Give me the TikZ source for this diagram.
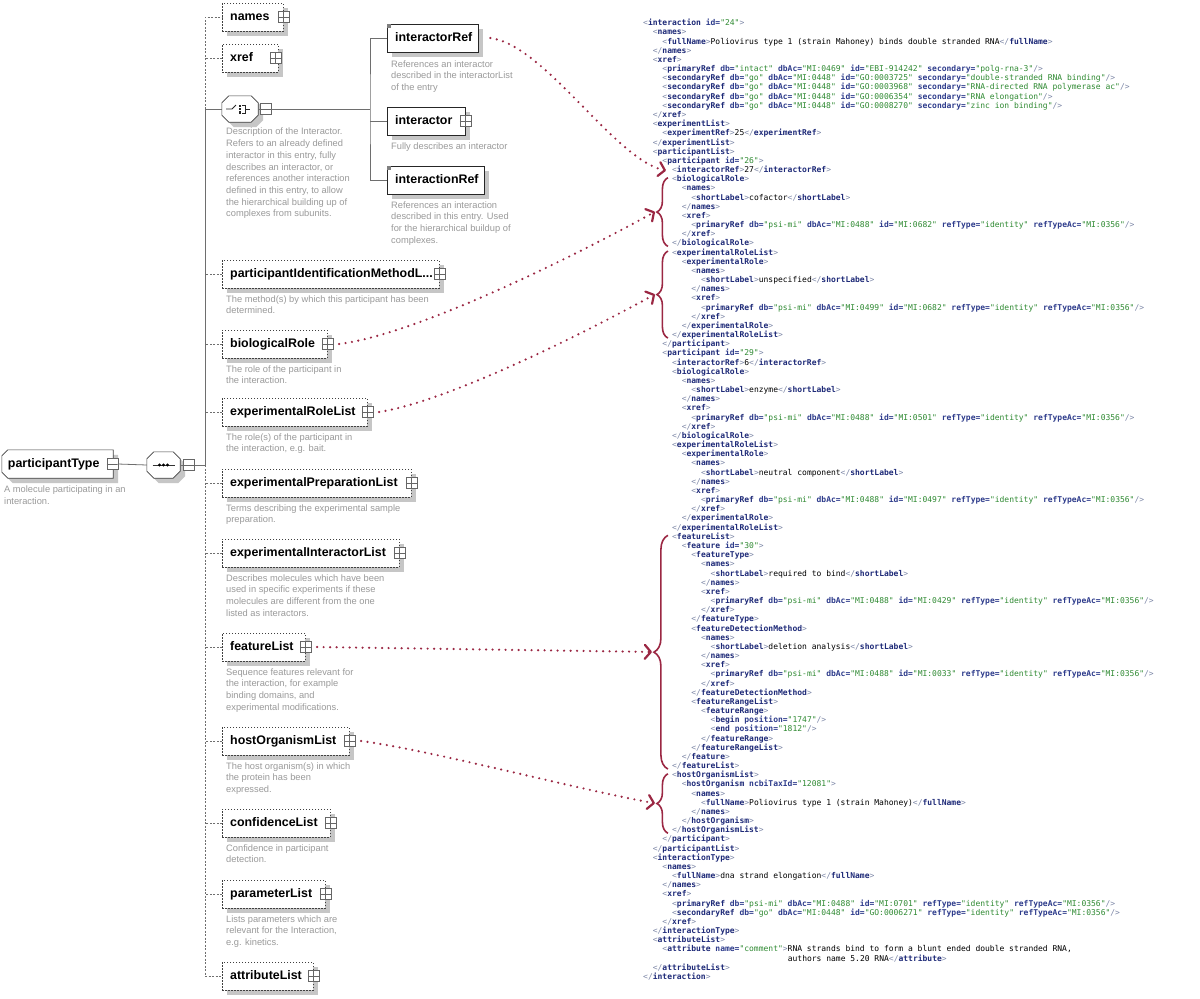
\documentclass[tikz,border=0pt]{standalone}
\usepackage{fontspec}
\usepackage{xcolor}
\usetikzlibrary{arrows.meta, positioning, calc, shadows, backgrounds, decorations.pathreplacing}
\setmainfont{Liberation Sans}
\newfontfamily\xmlfont{DejaVu Sans Mono}
\definecolor{schemaLine}{HTML}{6E6E6E}
\definecolor{descGrey}{HTML}{9A9A9A}
\definecolor{shadowGrey}{HTML}{C6C6C6}
\definecolor{linkRed}{HTML}{9B2743}
\definecolor{xmlBracket}{HTML}{7C86A6}
\definecolor{xmlTag}{HTML}{1E2A78}
\definecolor{xmlAttr}{HTML}{2E3C8C}
\definecolor{xmlValue}{HTML}{2F8A32}

% outlines of the compositor and type boxes
\newcommand\octpath[2]{($(#1.north west)+(#2,0)$) -- ($(#1.north east)+(-#2,0)$) -- ($(#1.north east)+(0,#2)$)
  -- ($(#1.south east)+(0,-#2)$) -- ($(#1.south east)+(-#2,0)$) -- ($(#1.south west)+(#2,0)$)
  -- ($(#1.south west)+(0,-#2)$) -- ($(#1.north west)+(0,#2)$) -- cycle}
\newcommand\lchampath[2]{($(#1.north west)+(#2,0)$) -- (#1.north east) -- (#1.south east)
  -- ($(#1.south west)+(#2,0)$) -- ($(#1.south west)+(0,-#2)$) -- ($(#1.north west)+(0,#2)$) -- cycle}

% xml listing helpers
\newcounter{xmlrow}
\newcommand\tagO[1]{\textcolor{xmlBracket}{<}\textcolor{xmlTag}{\bfseries #1}}
\newcommand\tagG{\textcolor{xmlBracket}{>}}
\newcommand\tagS{\textcolor{xmlBracket}{/>}}
\newcommand\tagC[1]{\textcolor{xmlBracket}{</}\textcolor{xmlTag}{\bfseries #1}\textcolor{xmlBracket}{>}}
\newcommand\xatt[2]{ \textcolor{xmlAttr}{\bfseries #1=}\textcolor{xmlValue}{"#2"}}
\newcommand\psiref[2]{\tagO{primaryRef}\xatt{db}{psi-mi}\xatt{dbAc}{#1}\xatt{id}{#2}\xatt{refType}{identity}\xatt{refTypeAc}{MI:0356}\tagS}
\newcommand\goref[2]{\tagO{secondaryRef}\xatt{db}{go}\xatt{dbAc}{MI:0448}\xatt{id}{#1}\xatt{secondary}{#2}\tagS}
\newcommand\xrow[2]{\stepcounter{xmlrow}%
  \node[xmlrowstyle] (x\arabic{xmlrow}) at ({643+#1*9.64},{25.8+(\arabic{xmlrow}-1)*9.17}) {#2};}

\begin{document}
\begin{tikzpicture}[x=1pt, y=-1pt,
  every node/.style={font=\fontsize{12.4}{14}\selectfont\bfseries},
  optel/.style={
    draw=black!75, dash pattern=on 1.5pt off 1.5pt, fill=white,
    minimum height=28pt, text width=#1, inner xsep=8pt, inner ysep=0pt,
    text height=9pt, text depth=3pt, align=left, anchor=west,
    general shadow={fill=shadowGrey, shadow xshift=5pt, shadow yshift=-5pt}
  },
  reqel/.style={optel=#1, solid, draw=black!85},
  compositor/.style={minimum width=#1, minimum height=26pt, inner sep=0pt},
  ptypebox/.style={
    minimum height=28pt, text width=99pt, inner xsep=6pt, inner ysep=0pt,
    text height=9pt, text depth=3pt, align=left
  },
  outline/.style={draw=black!75, fill=white, line width=0.6pt},
  outshadow/.style={fill=shadowGrey, transform canvas={xshift=5pt, yshift=-5pt}},
  plusbox/.style={
    draw=black!60, fill=white, minimum size=11pt, inner sep=0pt,
    path picture={\draw[black!60] (path picture bounding box.north) -- (path picture bounding box.south)
      (path picture bounding box.west) -- (path picture bounding box.east);}
  },
  minusbox/.style={
    draw=black!60, fill=white, minimum size=11pt, inner sep=0pt,
    path picture={\draw[black!60] (path picture bounding box.west) -- (path picture bounding box.east);}
  },
  desc/.style={font=\fontsize{9.3}{11.7}\selectfont, text=descGrey, align=left, inner sep=0pt, anchor=north west},
  conn/.style={draw=schemaLine, line width=0.8pt},
  conndash/.style={conn, dash pattern=on 2pt off 1.5pt},
  xmlrowstyle/.style={font=\xmlfont\fontsize{8}{9}\selectfont, anchor=base west, inner sep=0pt,
    text height=6pt, text depth=2pt},
  bracedeco/.style={draw=linkRed, line width=1.6pt, decorate, decoration={brace, amplitude=#1}},
  link/.style={draw=linkRed, line width=2.4pt, line cap=round, dash pattern=on 0pt off 6.5pt,
    -{Straight Barb[length=6pt, width=14pt, line width=2.2pt, round]}}
]
\begin{scope}[on background layer]
  \fill[white] (0,0) rectangle (1200,999);
\end{scope}
\useasboundingbox (0,0) rectangle (1200,999);

% participantType and sequence
\node[ptypebox] (ptype) at (57.5,464) {participantType};
\node[minusbox] (ptypeM) at ([xshift=-1pt]ptype.east) {};
\node[desc] (ptypeD) at (4,486) {A molecule participating in an\\interaction.};

\node[compositor=33pt] (seq) at (163.5,465) {};
\node[minusbox] (seqM) at (189,465) {};
\draw[black!80, line width=0.8pt] ([xshift=-11pt]seq.center) -- ([xshift=11pt]seq.center);
\foreach \dx in {-4,0,4} \fill[black] ([xshift=\dx pt]seq.center) circle (1.7pt);

% children of the sequence
\node[optel=45pt] (names) at (222,17) {names};
\node[plusbox] (namesP) at (names.east) {};
\node[optel=40pt] (xref) at (222,58) {xref};
\node[plusbox] (xrefP) at ([xshift=-3pt]xref.east) {};

\node[compositor=36pt] (choice) at (240,109) {};
\node[minusbox] (choiceM) at (265.5,109) {};
\begin{scope}[shift={(choice.center)}, black!85, line width=0.8pt]
  \draw (-14,0) -- (-8,0) -- (-4,-4);
  \foreach \dy in {-4.5,-1.2,2.1} \fill (-1,\dy) rectangle ++(2.4,2.4);
  \draw (2,-3.5) -- ++(3,0) -- ++(0,7.5) -- ++(-3,0);
  \draw (5,0) -- (10,0);
\end{scope}
\node[desc] (choiceD) at (226,128) {Description of the Interactor.\\Refers to an already defined\\interactor in this entry, fully\\describes an interactor, or\\references another interaction\\defined in this entry, to allow\\the hierarchical building up of\\complexes from subunits.};

\begin{scope}[on background layer]
  \fill[outshadow] \lchampath{ptype}{6};
  \draw[outline] \lchampath{ptype}{6};
  \fill[outshadow] \octpath{seq}{7};
  \draw[outline] \octpath{seq}{7};
  \fill[outshadow] \octpath{choice}{7};
  \draw[outline] \octpath{choice}{7};
\end{scope}

\node[reqel=75pt] (irRef) at (387,38) {interactorRef};
\fill[black!50] (irRef.north west) rectangle ++(4,4);
\node[desc, below right=8pt and 4pt of irRef.south west] (irRefD) {References an interactor\\described in the interactorList\\of the entry};
\node[reqel=62pt] (inter) at (387,121) {interactor};
\node[plusbox] (interP) at (inter.east) {};
\node[desc, below right=7pt and 4pt of inter.south west] (interD) {Fully describes an interactor};
\node[reqel=81pt] (iaRef) at (387,180) {interactionRef};
\fill[black!50] (iaRef.north west) rectangle ++(4,4);
\node[desc, below right=7pt and 4pt of iaRef.south west] (iaRefD) {References an interaction\\described in this entry. Used\\for the hierarchical buildup of\\complexes.};

\node[optel=201pt] (pim) at (222,274) {participantIdentificationMethodL...};
\node[plusbox] (pimP) at (pim.east) {};
\node[desc, below right=7pt and 4pt of pim.south west] (pimD) {The method(s) by which this participant has been\\determined.};
\node[optel=89pt] (bioRole) at (222,344) {biologicalRole};
\node[plusbox] (bioRoleP) at (bioRole.east) {};
\node[desc, below right=7pt and 4pt of bioRole.south west] (bioRoleD) {The role of the participant in\\the interaction.};
\node[optel=129pt] (expRole) at (222,412) {experimentalRoleList};
\node[plusbox] (expRoleP) at (expRole.east) {};
\node[desc, below right=7pt and 4pt of expRole.south west] (expRoleD) {The role(s) of the participant in\\the interaction, e.g. bait.};
\node[optel=173pt] (expPrep) at (222,483) {experimentalPreparationList};
\node[plusbox] (expPrepP) at (expPrep.east) {};
\node[desc, below right=7pt and 4pt of expPrep.south west] (expPrepD) {Terms describing the experimental sample\\preparation.};
\node[optel=161pt] (expInt) at (222,553) {experimentalInteractorList};
\node[plusbox] (expIntP) at (expInt.east) {};
\node[desc, below right=7pt and 4pt of expInt.south west] (expIntD) {Describes molecules which have been\\used in specific experiments if these\\molecules are different from the one\\listed as interactors.};
\node[optel=67pt] (feature) at (222,647) {featureList};
\node[plusbox] (featureP) at (feature.east) {};
\node[desc, below right=7pt and 4pt of feature.south west] (featureD) {Sequence features relevant for\\the interaction, for example\\binding domains, and\\experimental modifications.};
\node[optel=111pt] (host) at (222,741) {hostOrganismList};
\node[plusbox] (hostP) at (host.east) {};
\node[desc, below right=7pt and 4pt of host.south west] (hostD) {The host organism(s) in which\\the protein has been\\expressed.};
\node[optel=92pt] (conf) at (222,823) {confidenceList};
\node[plusbox] (confP) at (conf.east) {};
\node[desc, below right=7pt and 4pt of conf.south west] (confD) {Confidence in participant\\detection.};
\node[optel=87pt] (param) at (222,894) {parameterList};
\node[plusbox] (paramP) at (param.east) {};
\node[desc, below right=7pt and 4pt of param.south west] (paramD) {Lists parameters which are\\relevant for the Interaction,\\e.g. kinetics.};
\node[optel=75pt] (attrib) at (222,976) {attributeList};
\node[plusbox] (attribP) at (attrib.east) {};

% tree connectors
\coordinate (bus) at (205,465);
\coordinate (chbus) at (370,109);
\draw[conn] (ptypeM.east) -- (seq.west);
\draw[conn] (seq.east) -- (seqM.west);
\draw[conn] (seqM.east) -- (bus);
\draw[conn] (bus) |- (choice.west);
\draw[conndash] (choice.west -| bus) |- (names.west);
\draw[conndash] (xref.west) -- (xref.west -| bus);
\draw[conndash] (bus) |- (attrib.west);
\foreach \el in {pim, bioRole, expRole, expPrep, expInt, feature, host, conf, param}
  \draw[conndash] (\el.west) -- (\el.west -| bus);
\draw[conn] (choice.east) -- (choiceM.west);
\draw[conn] (choiceM.east) -- (chbus);
\draw[conn] (irRef.west) -| (chbus) |- (iaRef.west);
\draw[conn] (inter.west) -- (inter.west -| chbus);

% xml instance
\xrow{0}{\tagO{interaction}\xatt{id}{24}\tagG}
\xrow{1}{\tagO{names}\tagG}
\xrow{2}{\tagO{fullName}\tagG Poliovirus type 1 (strain Mahoney) binds double stranded RNA\tagC{fullName}}
\xrow{1}{\tagC{names}}
\xrow{1}{\tagO{xref}\tagG}
\xrow{2}{\tagO{primaryRef}\xatt{db}{intact}\xatt{dbAc}{MI:0469}\xatt{id}{EBI-914242}\xatt{secondary}{polg-rna-3}\tagS}
\xrow{2}{\goref{GO:0003725}{double-stranded RNA binding}}
\xrow{2}{\goref{GO:0003968}{RNA-directed RNA polymerase ac}}
\xrow{2}{\goref{GO:0006354}{RNA elongation}}
\xrow{2}{\goref{GO:0008270}{zinc ion binding}}
\xrow{1}{\tagC{xref}}
\xrow{1}{\tagO{experimentList}\tagG}
\xrow{2}{\tagO{experimentRef}\tagG 25\tagC{experimentRef}}
\xrow{1}{\tagC{experimentList}}
\xrow{1}{\tagO{participantList}\tagG}
\xrow{2}{\tagO{participant}\xatt{id}{26}\tagG}
\xrow{3}{\tagO{interactorRef}\tagG 27\tagC{interactorRef}}
\xrow{3}{\tagO{biologicalRole}\tagG}
\xrow{4}{\tagO{names}\tagG}
\xrow{5}{\tagO{shortLabel}\tagG cofactor\tagC{shortLabel}}
\xrow{4}{\tagC{names}}
\xrow{4}{\tagO{xref}\tagG}
\xrow{5}{\psiref{MI:0488}{MI:0682}}
\xrow{4}{\tagC{xref}}
\xrow{3}{\tagC{biologicalRole}}
\xrow{3}{\tagO{experimentalRoleList}\tagG}
\xrow{4}{\tagO{experimentalRole}\tagG}
\xrow{5}{\tagO{names}\tagG}
\xrow{6}{\tagO{shortLabel}\tagG unspecified\tagC{shortLabel}}
\xrow{5}{\tagC{names}}
\xrow{5}{\tagO{xref}\tagG}
\xrow{6}{\psiref{MI:0499}{MI:0682}}
\xrow{5}{\tagC{xref}}
\xrow{4}{\tagC{experimentalRole}}
\xrow{3}{\tagC{experimentalRoleList}}
\xrow{2}{\tagC{participant}}
\xrow{2}{\tagO{participant}\xatt{id}{29}\tagG}
\xrow{3}{\tagO{interactorRef}\tagG 6\tagC{interactorRef}}
\xrow{3}{\tagO{biologicalRole}\tagG}
\xrow{4}{\tagO{names}\tagG}
\xrow{5}{\tagO{shortLabel}\tagG enzyme\tagC{shortLabel}}
\xrow{4}{\tagC{names}}
\xrow{4}{\tagO{xref}\tagG}
\xrow{5}{\psiref{MI:0488}{MI:0501}}
\xrow{4}{\tagC{xref}}
\xrow{3}{\tagC{biologicalRole}}
\xrow{3}{\tagO{experimentalRoleList}\tagG}
\xrow{4}{\tagO{experimentalRole}\tagG}
\xrow{5}{\tagO{names}\tagG}
\xrow{6}{\tagO{shortLabel}\tagG neutral component\tagC{shortLabel}}
\xrow{5}{\tagC{names}}
\xrow{5}{\tagO{xref}\tagG}
\xrow{6}{\psiref{MI:0488}{MI:0497}}
\xrow{5}{\tagC{xref}}
\xrow{4}{\tagC{experimentalRole}}
\xrow{3}{\tagC{experimentalRoleList}}
\xrow{3}{\tagO{featureList}\tagG}
\xrow{4}{\tagO{feature}\xatt{id}{30}\tagG}
\xrow{5}{\tagO{featureType}\tagG}
\xrow{6}{\tagO{names}\tagG}
\xrow{7}{\tagO{shortLabel}\tagG required to bind\tagC{shortLabel}}
\xrow{6}{\tagC{names}}
\xrow{6}{\tagO{xref}\tagG}
\xrow{7}{\psiref{MI:0488}{MI:0429}}
\xrow{6}{\tagC{xref}}
\xrow{5}{\tagC{featureType}}
\xrow{5}{\tagO{featureDetectionMethod}\tagG}
\xrow{6}{\tagO{names}\tagG}
\xrow{7}{\tagO{shortLabel}\tagG deletion analysis\tagC{shortLabel}}
\xrow{6}{\tagC{names}}
\xrow{6}{\tagO{xref}\tagG}
\xrow{7}{\psiref{MI:0488}{MI:0033}}
\xrow{6}{\tagC{xref}}
\xrow{5}{\tagC{featureDetectionMethod}}
\xrow{5}{\tagO{featureRangeList}\tagG}
\xrow{6}{\tagO{featureRange}\tagG}
\xrow{7}{\tagO{begin}\xatt{position}{1747}\tagS}
\xrow{7}{\tagO{end}\xatt{position}{1812}\tagS}
\xrow{6}{\tagC{featureRange}}
\xrow{5}{\tagC{featureRangeList}}
\xrow{4}{\tagC{feature}}
\xrow{3}{\tagC{featureList}}
\xrow{3}{\tagO{hostOrganismList}\tagG}
\xrow{4}{\tagO{hostOrganism}\xatt{ncbiTaxId}{12081}\tagG}
\xrow{5}{\tagO{names}\tagG}
\xrow{6}{\tagO{fullName}\tagG Poliovirus type 1 (strain Mahoney)\tagC{fullName}}
\xrow{5}{\tagC{names}}
\xrow{4}{\tagC{hostOrganism}}
\xrow{3}{\tagC{hostOrganismList}}
\xrow{2}{\tagC{participant}}
\xrow{1}{\tagC{participantList}}
\xrow{1}{\tagO{interactionType}\tagG}
\xrow{2}{\tagO{names}\tagG}
\xrow{3}{\tagO{fullName}\tagG dna strand elongation\tagC{fullName}}
\xrow{2}{\tagC{names}}
\xrow{2}{\tagO{xref}\tagG}
\xrow{3}{\psiref{MI:0488}{MI:0701}}
\xrow{3}{\tagO{secondaryRef}\xatt{db}{go}\xatt{dbAc}{MI:0448}\xatt{id}{GO:0006271}\xatt{refType}{identity}\xatt{refTypeAc}{MI:0356}\tagS}
\xrow{2}{\tagC{xref}}
\xrow{1}{\tagC{interactionType}}
\xrow{1}{\tagO{attributeList}\tagG}
\xrow{2}{\tagO{attribute}\xatt{name}{comment}\tagG RNA strands bind to form a blunt ended double stranded RNA,}
\xrow{15}{authors name 5.20 RNA\tagC{attribute}}
\xrow{1}{\tagC{attributeList}}
\xrow{0}{\tagC{interaction}}

% braces over the instance
\draw[bracedeco=11pt] ($(x25.west)+(-4,2.5)$) -- ($(x18.west)+(-4,-2)$);
\draw[bracedeco=11pt] ($(x35.west)+(-4,2.5)$) -- ($(x26.west)+(-4,-2)$);
\draw[bracedeco=14pt] ($(x82.west)+(-4,2.5)$) -- ($(x57.west)+(-4,-2)$);
\draw[bracedeco=11pt] ($(x89.west)+(-4,2.5)$) -- ($(x83.west)+(-4,-2)$);
\coordinate (bioTip) at ($(x18.west)!0.5!(x25.west)+(-17,0)$);
\coordinate (expRoleTip) at ($(x26.west)!0.5!(x35.west)+(-17,0)$);
\coordinate (featureTip) at ($(x57.west)!0.5!(x82.west)+(-20,0)$);
\coordinate (hostTip) at ($(x83.west)!0.5!(x89.west)+(-17,0)$);

% links from schema to instance
\draw[link] ([xshift=12pt]irRef.east) .. controls (545,45) and (615,160) .. ($(x17.west)+(-6,0)$);
\draw[link] ([xshift=6pt]bioRoleP.east) .. controls (420,334) and (586,250) .. (bioTip);
\draw[link] ([xshift=6pt]expRoleP.east) .. controls (450,401) and (590,330) .. (expRoleTip);
\draw[link] ([xshift=6pt]featureP.east) -- (featureTip);
\draw[link] ([xshift=6pt]hostP.east) .. controls (430,750) and (580,790) .. (hostTip);

\end{tikzpicture}
\end{document}
